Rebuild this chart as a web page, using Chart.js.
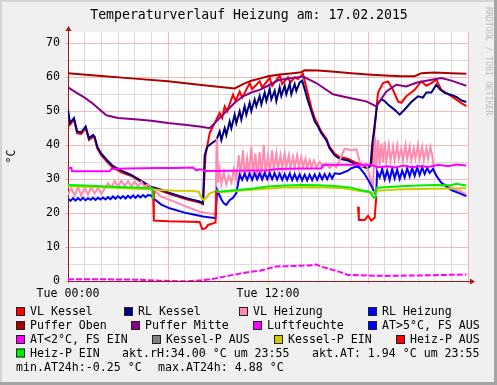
<!DOCTYPE html>
<html>
<head>
<meta charset="utf-8">
<script src="https://cdn.jsdelivr.net/npm/chart.js@4.4.1/dist/chart.umd.min.js"></script>
<style>
  html, body { margin: 0; padding: 0; background: #f0f0f0; }
  canvas { display: block; }
</style>
</head>
<body>
<canvas id="chart" width="497" height="385"></canvas>
<script>
// ================= DATEN =================
// x = Stunden ab Tue 00:00, y = °C (Luftfeuchte in %)

const titel = "Temperaturverlauf Heizung am: 17.02.2015";
const xTickLabels = { 0: "Tue 00:00", 12: "Tue 12:00" };

const vlKessel = [[0,48.5],[0.12,46],[0.36,47.5],[0.55,43.5],[0.8,43.3],[1.06,45],[1.26,41.5],[1.5,42.5],[1.6,42],[1.76,39],[2.0,37],[2.36,35],[2.66,33.5],[3.2,32],[3.76,31],[4.4,29.2],[4.96,27.5],[5.5,26.7],[6.1,25.6],[7.1,24.1],[7.9,23.1],[8.1,22.6],[8.25,37],[8.5,43.6],[8.9,47.5],[9.1,49.5],[9.25,48],[9.4,51.4],[9.55,50],[9.9,54.9],[10.05,53],[10.3,55.8],[10.45,54],[10.9,58.3],[11.05,56.5],[11.5,58.8],[11.65,57],[12.1,59.8],[12.25,57.5],[12.7,60.5],[12.85,58],[13.2,60],[13.35,58.5],[13.6,60],[13.8,59.5],[14.1,61],[14.2,59],[14.4,55],[14.6,51],[14.8,48],[15.0,46],[15.2,44],[15.5,42],[15.7,39.5],[16.0,37.5],[16.3,36.5],[16.8,36],[17.2,35],[17.6,34.3],[18.0,33.7],[18.2,34],[18.4,45],[18.55,53],[18.6,55.4],[18.9,58.3],[19.2,58.8],[19.5,56.3],[19.8,52.9],[20.0,52.5],[20.3,54.4],[20.8,56.3],[21.2,58.8],[21.5,57.5],[21.8,58.3],[22.1,59.3],[22.4,56.3],[23.0,54.4],[23.6,52.4],[23.9,51.5]];

const rlKessel = [[0,50.5],[0.12,46.5],[0.36,48],[0.55,44],[0.8,43.8],[1.06,45.5],[1.26,42],[1.5,43],[1.6,42.5],[1.76,39.5],[2.0,37.5],[2.36,35.5],[2.66,34],[3.2,32.5],[3.76,31.3],[4.4,29.5],[4.96,27.8],[5.5,27],[6.1,25.9],[7.1,24.4],[7.9,23.4],[8.1,22.9],[8.2,37],[8.35,39.5],[8.6,40.5],[8.9,41.5],[9.1,44],[9.2,41.5],[9.4,45],[9.5,43],[9.7,47],[9.8,45],[10.0,49],[10.1,46.5],[10.3,50],[10.4,47.5],[10.6,51.5],[10.7,49],[10.9,52.5],[11.0,50],[11.2,53.5],[11.3,51.5],[11.5,54.5],[11.6,52],[11.8,55.5],[11.9,53],[12.1,56.5],[12.2,53.5],[12.4,56],[12.5,53],[12.7,57],[12.8,54.5],[13.0,57.5],[13.1,55],[13.3,58],[13.4,55],[13.6,58],[13.7,56],[13.9,58.5],[14.05,59],[14.2,56.5],[14.4,53],[14.6,50],[14.8,47],[15.0,45.5],[15.2,43.5],[15.5,41.5],[15.7,39],[16.0,37],[16.3,36],[16.8,35.5],[17.2,34.5],[17.6,33.8],[18.0,33.2],[18.15,34],[18.25,40],[18.4,46],[18.55,52],[18.8,53.5],[19.0,53],[19.2,52],[19.6,50.4],[19.9,49],[20.2,50.5],[20.6,52.7],[21.0,54.4],[21.3,54],[21.5,55.5],[21.8,55.5],[22.1,57.8],[22.3,56.5],[22.6,55.4],[23.0,54.8],[23.3,54.2],[23.6,53.2],[23.9,52.7]];

const vlHeizung = [[0,25.5],[0.2,27.3],[0.4,25.3],[0.6,27.5],[0.8,25.2],[1.0,27.4],[1.2,25.5],[1.4,27.6],[1.6,25.8],[1.8,27.5],[2.0,25.6],[2.2,27.2],[2.4,28.8],[2.6,27.6],[2.8,29.4],[3.0,27.8],[3.2,29.5],[3.4,28],[3.6,29.4],[3.8,27.9],[4.0,29.3],[4.2,27.8],[4.4,29.2],[4.6,27.7],[4.8,28.6],[5.0,27.2],[5.2,26.5],[5.6,24.8],[6.1,23.9],[7.1,21.9],[7.9,20.4],[8.5,19.9],[8.85,19.7],[8.92,42],[9.0,29],[9.1,33],[9.2,28.5],[9.35,32],[9.5,28.5],[9.65,31],[9.8,29],[9.95,33],[10.1,30],[10.25,37],[10.35,31],[10.5,38.5],[10.6,30.5],[10.75,36],[10.85,31],[11.0,39.5],[11.1,31.5],[11.25,37.5],[11.35,30.5],[11.5,38],[11.6,31],[11.75,40],[11.85,31.5],[12.0,37],[12.1,32],[12.25,38.5],[12.35,32.5],[12.5,37.5],[12.6,33],[12.75,37],[12.85,33],[13.0,37.5],[13.1,33.5],[13.25,37],[13.35,33],[13.5,36.5],[13.6,33.5],[13.75,37],[13.85,33.5],[14.0,36.5],[14.1,33.5],[14.25,36],[14.35,33.5],[14.5,35.5],[14.6,33.5],[14.75,35.5],[14.9,33.5],[15.1,35],[15.3,33.5],[15.5,34.5],[15.7,33.3],[15.9,34.2],[16.1,33.5],[16.3,35.5],[16.6,39],[17.0,38.5],[17.3,38.8],[17.6,33.5],[17.9,34.5],[18.1,31],[18.3,27.5],[18.42,42.5],[18.5,33],[18.6,41.5],[18.7,34],[18.8,40.5],[18.9,35],[19.0,41],[19.1,35],[19.25,40],[19.35,35.5],[19.5,39.5],[19.6,35.5],[19.75,40],[19.85,36],[20.0,39],[20.1,35.5],[20.25,40],[20.35,36],[20.5,39.5],[20.6,35.5],[20.75,39],[20.85,36],[21.0,40],[21.1,36],[21.25,39.5],[21.35,35.5],[21.5,39],[21.6,36],[21.75,39.5],[21.85,37],[22.0,32],[22.3,29.5],[22.6,28.5],[23.0,27.5],[23.5,26.5],[23.9,25.5]];

const rlHeizung = [[0,24.2],[0.15,23.6],[0.3,24.4],[0.45,23.7],[0.6,24.4],[0.75,23.8],[0.9,24.5],[1.05,23.8],[1.2,24.4],[1.35,23.9],[1.5,24.5],[1.65,23.9],[1.8,24.5],[1.95,24],[2.1,24.6],[2.25,24],[2.4,24.7],[2.55,24.1],[2.7,24.9],[2.85,24.2],[3.0,25],[3.15,24.3],[3.3,25],[3.45,24.3],[3.6,25.1],[3.75,24.4],[3.9,25.2],[4.05,24.5],[4.2,25.2],[4.35,24.6],[4.5,25.3],[4.65,24.7],[4.8,25.3],[5.0,25.2],[5.1,24.4],[5.6,22.5],[6.1,21.4],[7.1,20],[8.1,19],[8.85,18.5],[8.95,26.8],[9.2,24],[9.35,22.9],[9.5,22.4],[9.7,23.8],[9.9,24.5],[10.1,25.9],[10.3,31.3],[10.45,29.8],[10.6,31.6],[10.75,29.8],[10.9,31.6],[11.05,29.8],[11.2,31.7],[11.35,29.9],[11.5,31.7],[11.65,29.9],[11.8,31.8],[11.95,30],[12.1,31.8],[12.25,30],[12.4,31.7],[12.55,29.9],[12.7,31.6],[12.85,29.8],[13.0,31.5],[13.15,29.8],[13.3,31.6],[13.45,29.7],[13.6,31.5],[13.75,29.7],[13.9,31.4],[14.05,29.6],[14.2,31.3],[14.35,29.6],[14.5,31.3],[14.65,29.7],[14.8,31.4],[14.95,29.8],[15.1,31.5],[15.25,29.9],[15.4,31.5],[15.55,30],[15.7,31.6],[15.85,30.2],[16.0,31.7],[16.3,31.5],[16.8,32.5],[17.0,33.2],[17.3,33.7],[17.5,33.3],[17.8,31.5],[18.1,29],[18.4,26],[18.5,26.8],[18.55,32.2],[18.7,30.5],[18.85,33],[19.0,30],[19.15,32.5],[19.3,29.8],[19.45,33],[19.6,30.2],[19.75,32.8],[19.9,30],[20.05,32.5],[20.2,30.5],[20.35,33.2],[20.5,30.8],[20.65,33.3],[20.8,31],[20.95,33.5],[21.1,31.2],[21.25,33.5],[21.4,31.5],[21.55,33.3],[21.7,31.8],[21.9,33],[22.1,31],[22.4,28.9],[23.0,26.8],[23.5,25.8],[23.9,25.0]];

const pufferOben = [[0,61.2],[2,60.4],[4,59.6],[6,58.8],[8,57.7],[10.0,56.7],[10.5,58],[11,59],[11.5,59.6],[12,60.3],[12.7,60.8],[13.5,61.2],[14.0,61.5],[14.2,62.1],[15,62.0],[16,61.6],[17,61.2],[18,60.8],[19,60.5],[20,60.3],[20.8,60.3],[21.2,61.2],[22,61.4],[23,61.2],[23.9,61.0]];

const pufferMitte = [[0,57],[0.5,55.5],[1,54],[1.5,52.2],[2.3,48.8],[3,48],[4,47.6],[5,47.2],[6,46.5],[7,46],[8,45.4],[8.5,45],[8.8,46.5],[9.2,48.5],[9.6,50.5],[10,52.5],[10.5,54.4],[11,55.5],[11.5,56.3],[12,57.5],[12.6,59.1],[13.2,59.6],[14.1,60.2],[14.9,58.3],[15.9,55],[16.9,53.9],[17.9,52.9],[18.5,51.4],[19.1,55.8],[19.7,57.8],[20.3,57.3],[20.9,58.4],[21.5,59],[22.4,59.8],[23,59],[23.9,57.5]];

const luftfeuchte = [[0,33.3],[0.2,33.3],[0.25,32.3],[1.5,32.3],[2.5,32.3],[2.6,33],[3.5,33.1],[4.5,33.2],[5.5,33.3],[6.5,33.3],[7.5,33.4],[7.7,32.6],[7.9,32.9],[8.1,32.8],[8.2,32.4],[10,32.5],[12,32.6],[12.6,33],[14,33.1],[15.2,33.1],[15.3,34.2],[16.5,34.2],[17.5,34.3],[18.2,34.2],[18.6,33.5],[19.2,33.8],[19.6,33.4],[20.2,34],[20.6,33.5],[21.2,33.9],[21.6,33.6],[22.2,34.2],[22.8,33.8],[23.3,34.3],[23.9,34]];

const aussenTemp = [[0,0.5],[2,0.5],[4,0.4],[5.5,0.1],[7,-0.1],[8,0.2],[8.9,0.8],[9.9,1.8],[10.8,2.6],[11.5,3.0],[12.5,4.3],[13.5,4.4],[14.5,4.6],[14.9,4.88],[15.2,4.2],[16.3,2.7],[16.8,1.8],[18,1.6],[19,1.5],[20.5,1.6],[22,1.7],[23.9,1.94]];

const atUeber5 = [];
const kesselPAus = [];

const kesselPEin = [[0,27.9],[2,27.6],[4,27.2],[5.1,27],[5.5,26.8],[6.5,26.6],[7.5,26.5],[7.85,26.3],[8.0,24.5],[8.15,23.8],[8.3,24.5],[8.45,25.6],[8.7,26.2],[9.5,26.3],[11,26.9],[13,27.5],[15,27.6],[16.5,27.3],[17.5,26.5],[18.3,26],[18.5,26.6],[20,27],[22,27.2],[23.9,27.3]];

const heizPAus = [[5.1,26.5],[5.15,17.8],[6,17.6],[7.9,17.4],[8.05,15.3],[8.25,15.5],[8.4,16.5],[8.85,17.2],[8.9,26.8],[8.95,null],[17.35,null],[17.4,21.9],[17.45,18],[17.8,18],[18.0,19.2],[18.2,17.8],[18.4,18.6],[18.5,25]];

const heizPEin = [[0,28.3],[1,28.1],[2,27.9],[3,27.7],[4,27.5],[5.05,27.3],[5.1,24.2],[5.15,null],[8.85,null],[8.9,26.8],[9,26.3],[10,26.7],[11,27.2],[12,27.8],[13,28.1],[14,28.3],[15,28.2],[16,28],[17,27.5],[17.5,26.8],[18.1,26.3],[18.35,24.5],[18.45,24.9],[18.5,27.4],[19,27.6],[20,27.9],[21,28.1],[22,28.3],[23,28.2],[23.3,28.6],[23.9,28.1]];

const legendeZeilen = [
  "akt.rH:34.00 °C um 23:55",
  "akt.AT: 1.94 °C um 23:55",
  "min.AT24h:-0.25 °C",
  "max.AT24h: 4.88 °C"
];

// ================= SERIEN =================

const serien = [
  { label: "VL Kessel", farbe: "#ff0000", daten: vlKessel },
  { label: "RL Kessel", farbe: "#000080", daten: rlKessel },
  { label: "VL Heizung", farbe: "#ff8cb0", daten: vlHeizung },
  { label: "RL Heizung", farbe: "#0000ff", daten: rlHeizung },
  { label: "Puffer Oben", farbe: "#aa0000", daten: pufferOben },
  { label: "Puffer Mitte", farbe: "#880088", daten: pufferMitte },
  { label: "Luftfeuchte", farbe: "#ff00ff", daten: luftfeuchte },
  { label: "AT>5°C, FS AUS", farbe: "#0000ff", daten: atUeber5 },
  { label: "AT<2°C, FS EIN", farbe: "#ff00ff", daten: aussenTemp, dash: [6, 2] },
  { label: "Kessel-P AUS", farbe: "#808080", daten: kesselPAus },
  { label: "Kessel-P EIN", farbe: "#cccc00", daten: kesselPEin },
  { label: "Heiz-P AUS", farbe: "#ff0000", daten: heizPAus },
  { label: "Heiz-P EIN", farbe: "#00ee00", daten: heizPEin }
];

// Legendenposition (x der Box) je Zeile
const legendeLayout = [
  { y: 311.5, items: [[0, 16], [1, 124], [2, 239], [3, 368]] },
  { y: 325.5, items: [[4, 16], [5, 131], [6, 253], [7, 368]] },
  { y: 339.5, items: [[8, 16], [9, 152], [10, 274], [11, 396]] },
  { y: 353, items: [[12, 16]], texte: [[0, 122], [1, 312]] },
  { y: 367, items: [], texte: [[2, 16], [3, 158]] }
];

const MONO = '"DejaVu Sans Mono", monospace';
const achsenFarbe = "#9c1a1a";
const gridMajor = "rgba(240,140,140,0.6)";
const gridMinor = "#dcdcdc";

// ================= PLUGIN (Rahmen, Titel, Legende) =================

const rrdPlugin = {
  id: "rrd",
  beforeDraw(chart) {
    const { ctx, chartArea: a, width, height } = chart;
    ctx.save();
    ctx.fillStyle = "#f0f0f0";
    ctx.fillRect(0, 0, width, height);
    ctx.fillStyle = "#d4d4d4";
    ctx.fillRect(0, 0, width, 2);
    ctx.fillRect(0, 0, 2, height);
    ctx.fillStyle = "#a4a4a4";
    ctx.fillRect(width - 3, 0, 3, height);
    ctx.fillRect(0, height - 3, width, 3);
    ctx.fillStyle = "#ffffff";
    ctx.fillRect(a.left, a.top, a.right - a.left, a.bottom - a.top);
    ctx.restore();
  },
  afterDraw(chart) {
    const { ctx, chartArea: a } = chart;
    ctx.save();

    // Titel
    ctx.fillStyle = "#000";
    ctx.font = "13.2px " + MONO;
    ctx.textAlign = "center";
    ctx.textBaseline = "middle";
    ctx.fillText(titel, 249, 16);

    // Pfeile an den Achsen
    ctx.fillStyle = achsenFarbe;
    ctx.strokeStyle = achsenFarbe;
    ctx.lineWidth = 1;
    ctx.beginPath();
    ctx.moveTo(a.left + 0.5, a.top);
    ctx.lineTo(a.left + 0.5, a.top - 2);
    ctx.moveTo(a.right, a.bottom + 0.5);
    ctx.lineTo(a.right + 2, a.bottom + 0.5);
    ctx.stroke();
    ctx.beginPath();
    ctx.moveTo(a.left + 0.5, a.top - 6);
    ctx.lineTo(a.left - 2.5, a.top - 1);
    ctx.lineTo(a.left + 3.5, a.top - 1);
    ctx.closePath();
    ctx.fill();
    ctx.beginPath();
    ctx.moveTo(a.right + 7, a.bottom + 0.5);
    ctx.lineTo(a.right + 2, a.bottom - 2.5);
    ctx.lineTo(a.right + 2, a.bottom + 3.5);
    ctx.closePath();
    ctx.fill();

    // Wasserzeichen
    ctx.save();
    ctx.translate(488, 7);
    ctx.rotate(Math.PI / 2);
    ctx.fillStyle = "#bcbcbc";
    ctx.font = "8.2px " + MONO;
    ctx.textAlign = "left";
    ctx.textBaseline = "middle";
    ctx.fillText("RRDTOOL / TOBI OETIKER", 0, 0);
    ctx.restore();

    // Legende
    ctx.font = "11.6px " + MONO;
    ctx.textAlign = "left";
    ctx.textBaseline = "middle";
    legendeLayout.forEach(zeile => {
      zeile.items.forEach(([idx, x]) => {
        const s = serien[idx];
        ctx.fillStyle = s.farbe;
        ctx.fillRect(x, zeile.y - 4.5, 9, 9);
        ctx.strokeStyle = "#222";
        ctx.strokeRect(x + 0.5, zeile.y - 4, 8, 8);
        ctx.fillStyle = "#000";
        ctx.fillText(s.label, x + 14, zeile.y + 0.5);
      });
      (zeile.texte || []).forEach(([idx, x]) => {
        ctx.fillStyle = "#000";
        ctx.fillText(legendeZeilen[idx], x, zeile.y + 0.5);
      });
    });

    ctx.restore();
  }
};

// ================= CHART =================

const datasets = serien.map((s, i) => ({
  label: s.label,
  data: s.daten.map(([x, y]) => ({ x, y })),
  borderColor: s.farbe,
  backgroundColor: s.farbe,
  borderWidth: 2,
  borderDash: s.dash || [],
  pointRadius: 0,
  tension: 0,
  spanGaps: false,
  order: serien.length - i
}));

const gridFarbe = (c, teiler) => {
  if (!c.tick) return gridMinor;
  return c.tick.value % teiler === 0 ? gridMajor : gridMinor;
};

new Chart(document.getElementById("chart"), {
  type: "line",
  data: { datasets },
  options: {
    responsive: false,
    animation: false,
    layout: { padding: { top: 32, right: 29, left: 0, bottom: 0 } },
    plugins: {
      legend: { display: false },
      tooltip: { enabled: false },
      title: { display: false }
    },
    scales: {
      x: {
        type: "linear",
        min: 0,
        max: 24,
        afterFit: s => { s.height = 104; },
        border: { color: achsenFarbe, width: 1 },
        grid: { color: c => gridFarbe(c, 6), tickLength: 3 },
        ticks: {
          stepSize: 1,
          autoSkip: false,
          maxRotation: 0,
          padding: 3,
          color: "#000",
          font: { family: MONO, size: 11.6 },
          callback: v => xTickLabels[v] || ""
        }
      },
      y: {
        min: 0,
        max: 73.33,
        afterFit: s => { s.width = 68; },
        border: { color: achsenFarbe, width: 1 },
        grid: { color: c => gridFarbe(c, 10), tickLength: 3 },
        ticks: {
          stepSize: 5,
          includeBounds: false,
          padding: 5,
          color: "#000",
          font: { family: MONO, size: 11.6 },
          callback: v => (v % 10 === 0 ? v : "")
        },
        title: {
          display: true,
          text: "°C",
          color: "#000",
          padding: { top: 5, bottom: 0 },
          font: { family: MONO, size: 11.6 }
        }
      }
    }
  },
  plugins: [rrdPlugin]
});
</script>
</body>
</html>
